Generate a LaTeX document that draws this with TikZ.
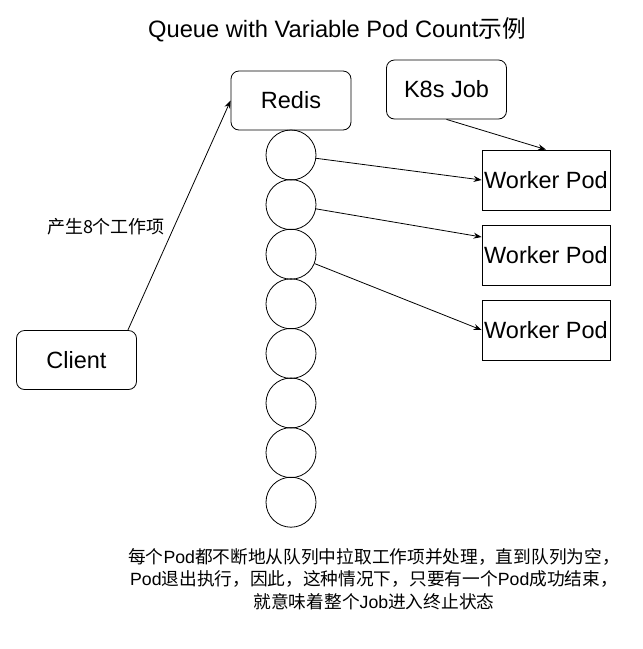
\documentclass[tikz,border=0pt]{standalone}
\usepackage{fontspec}
\setmainfont{Liberation Sans}
\newfontfamily\cjk{Noto Sans CJK SC}
\usetikzlibrary{arrows.meta,positioning,calc}
\tikzset{
  >={Stealth[length=8pt,width=6pt]},
  rbox/.style={draw, rounded corners=8pt, minimum width=120pt, minimum height=59pt,
              inner sep=0pt, font=\fontsize{23.5}{28}\selectfont},
  pod/.style={draw, minimum width=128pt, minimum height=60pt,
              inner sep=0pt, font=\fontsize{23.5}{28}\selectfont},
  qitem/.style={draw, circle, minimum size=50pt, inner sep=0pt},
  lbl/.style={font=\fontsize{18}{22}\selectfont\cjk},
  note/.style={font=\fontsize{17.7}{22.5}\selectfont, align=center},
  flow/.style={->, line width=0.8pt},
}

\begin{document}
\begin{tikzpicture}[x=1pt,y=-1pt, line width=0.8pt]
  \useasboundingbox (0,0) rectangle (643,649);
  \node[font=\fontsize{23.7}{28}\selectfont] (title) at (337,30) {Queue with Variable Pod Count{\cjk 示例}};
  \node[rbox] (redis) at (291,100.5) {Redis};
  \node[rbox] (job) at (446.5,89.5) {K8s Job};
  \node[rbox] (client) at (76.5,360) {Client};
  % queue of work items
  \foreach \i in {1,...,8}{
    \node[qitem] (q\i) at (291,{155+49.6*(\i-1)}) {};}
  \foreach \i/\y in {1/180,2/255,3/330}{
    \node[pod] (pod\i) at (546,\y) {Worker Pod};}
  \node[lbl] (gen) at (106,227) {产生8个工作项};
  \draw[flow] ([xshift=-9pt]client.north east) -- (redis.west);
  \draw[flow] (job.south) -- (pod1.north);
  \draw[flow] (q1) -- (pod1.west);
  \draw[flow] (q2) -- ([yshift=18pt]pod2.west);
  \draw[flow] (q3) -- (pod3.west);
  \node[note] (desc) at (374,579)
    {{\cjk 每个}Pod{\cjk 都不断地从队列中拉取工作项并处理，直到队列为空，}\\
     Pod{\cjk 退出执行，因此，这种情况下，只要有一个}Pod{\cjk 成功结束，}\\
     {\cjk 就意味着整个}Job{\cjk 进入终止状态}};
\end{tikzpicture}
\end{document}
